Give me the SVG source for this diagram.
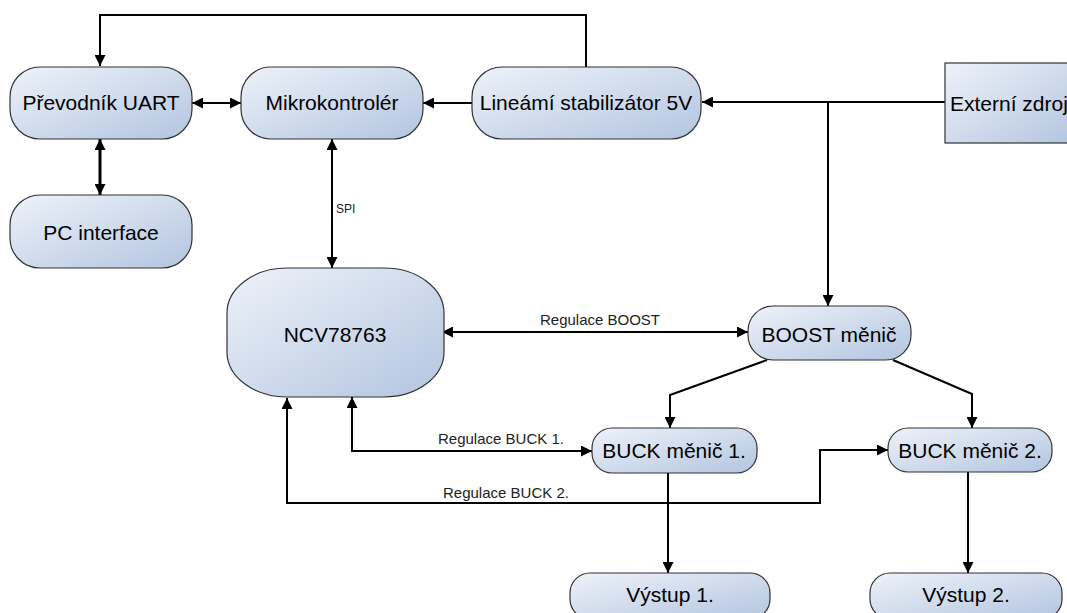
<svg xmlns="http://www.w3.org/2000/svg" width="1067" height="613" viewBox="0 0 1067 613">
<defs>
<linearGradient id="fill" x1="0" y1="0" x2="1" y2="1">
<stop offset="0" stop-color="#eef2f9"/>
<stop offset="1" stop-color="#b3c5e0"/>
</linearGradient>
<marker id="arr" viewBox="0 0 10 10" refX="10" refY="5" markerWidth="11" markerHeight="11" markerUnits="userSpaceOnUse" orient="auto-start-reverse">
<path d="M0,0 L10,5 L0,10 z" fill="#000"/>
</marker>
<style>
.node{fill:url(#fill);stroke:#333;stroke-width:1.2}
.t{font-family:"Liberation Sans",Arial,sans-serif;font-size:21px;fill:#000;text-anchor:middle}
.lbl{font-family:"Liberation Sans",Arial,sans-serif;font-size:15px;fill:#222}
.c{fill:none;stroke:#000;stroke-width:2}
.a{marker-end:url(#arr)}
.b{marker-start:url(#arr);marker-end:url(#arr)}
</style>
</defs>
<rect width="1067" height="613" fill="#fff"/>
<g id="connectors">
<path class="c a" d="M586,67 V15 H100 V66"/>
<path class="c b" d="M192,103 H241"/>
<path class="c a" d="M472,103 H423"/>
<path class="c a" d="M945,102 H702"/>
<path class="c a" d="M828,102 V306"/>
<path class="c b" d="M100,139 V195" style="stroke-width:3"/>
<path class="c b" d="M332,139 V268"/>
<path class="c b" d="M442,332 H748"/>
<path class="c a" d="M767,360 L670,395 V428"/>
<path class="c a" d="M893,360 L972,394 V428"/>
<path class="c b" d="M592,451 H352 V397"/>
<path class="c b" d="M888,450 H820 V503 H287 V398"/>
<path class="c a" d="M668,473 V573"/>
<path class="c a" d="M968,472 V573"/>
<text class="lbl" x="336" y="213" style="font-size:12px">SPI</text>
<text class="lbl" x="600" y="325" text-anchor="middle">Regulace BOOST</text>
<text class="lbl" x="438" y="444">Regulace BUCK 1.</text>
<text class="lbl" x="443" y="498">Regulace BUCK 2.</text>
</g>
<g id="prevodnik"><rect class="node" x="10" y="67" width="182" height="72" rx="30" ry="30"/><text class="t" x="101" y="110">Převodník UART</text></g>
<g id="mikrokontroler"><rect class="node" x="241" y="67" width="182" height="72" rx="30" ry="30"/><text class="t" x="332" y="110">Mikrokontrolér</text></g>
<g id="stabilizator"><rect class="node" x="472" y="67" width="229" height="72" rx="30" ry="30"/><text class="t" x="586" y="110">Lineámí stabilizátor 5V</text></g>
<g id="externi"><rect class="node" x="945" y="63" width="130" height="80"/><text class="t" x="950" y="111" style="text-anchor:start">Externí zdroj</text></g>
<g id="pc"><rect class="node" x="10" y="195" width="182" height="73" rx="30" ry="30"/><text class="t" x="101" y="240">PC interface</text></g>
<g id="ncv"><rect class="node" x="227" y="268" width="217" height="129" rx="60" ry="45"/><text class="t" x="335" y="342">NCV78763</text></g>
<g id="boost"><rect class="node" x="748" y="306" width="163" height="54" rx="25" ry="25"/><text class="t" x="829" y="342">BOOST měnič</text></g>
<g id="buck1"><rect class="node" x="592" y="428" width="165" height="45" rx="20" ry="20"/><text class="t" x="674" y="458">BUCK měnič 1.</text></g>
<g id="buck2"><rect class="node" x="888" y="428" width="164" height="44" rx="20" ry="20"/><text class="t" x="970" y="458">BUCK měnič 2.</text></g>
<g id="vystup1"><rect class="node" x="570" y="573" width="200" height="46" rx="20" ry="20"/><text class="t" x="670" y="602">Výstup 1.</text></g>
<g id="vystup2"><rect class="node" x="870" y="573" width="192" height="46" rx="20" ry="20"/><text class="t" x="966" y="602">Výstup 2.</text></g>
</svg>
